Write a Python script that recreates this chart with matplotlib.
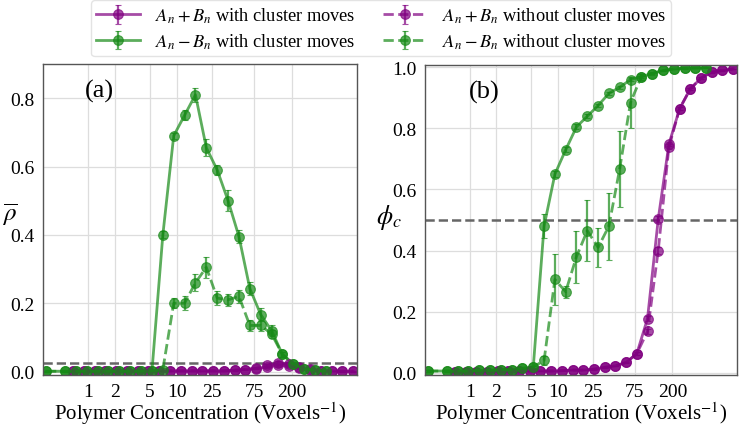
import matplotlib
matplotlib.use("Agg")
import matplotlib.pyplot as plt

plt.rcParams['font.family'] = ['Liberation Serif', 'DejaVu Serif']
plt.rcParams['mathtext.fontset'] = 'stix'

# concentrations (Voxels^-1)
x_green = [0.336, 0.550, 0.730, 0.968, 1.284, 1.702, 2.258, 2.995, 3.972, 5.267,
           6.985, 9.263, 12.28, 16.29, 21.60, 28.65, 37.99, 50.39, 66.83, 88.62,
           117.5, 155.9, 206.7, 274.2, 363.6, 482.2]
x_purple = [0.678, 0.897, 1.186, 1.569, 2.075, 2.745, 3.631, 4.803, 6.353, 8.404,
            11.12, 14.71, 19.45, 25.73, 34.04, 45.03, 59.57, 78.80, 104.2, 137.9,
            182.4, 241.3, 319.2, 422.2, 558.5, 738.8, 977.2]

# panel (a): rho bar
rho_plus_cl = [0.002, 0.002, 0.002, 0.002, 0.002, 0.002, 0.002, 0.002, 0.002, 0.002,
               0.002, 0.002, 0.002, 0.002, 0.002, 0.004, 0.006, 0.009, 0.013, 0.018,
               0.016, 0.011, 0.006, 0.003, 0.002, 0.001, 0.001]
rho_plus_cl_err = [0.001] * 17 + [0.002, 0.003, 0.004, 0.004, 0.003, 0.002, 0.001, 0.001, 0.001, 0.001]
rho_minus_cl = [0.001, 0.001, 0.001, 0.001, 0.001, 0.001, 0.001, 0.001, 0.001, 0.002,
                0.40, 0.69, 0.75, 0.81, 0.655, 0.59, 0.50, 0.395, 0.243, 0.167,
                0.12, 0.05, 0.023, 0.008, 0.004, 0.002]
rho_minus_cl_err = [0.001] * 10 + [0.01, 0.008, 0.015, 0.02, 0.025, 0.015, 0.03, 0.018,
                                   0.02, 0.02, 0.015, 0.008, 0.005, 0.003, 0.002, 0.001]
rho_plus_nocl = [0.002, 0.002, 0.002, 0.002, 0.002, 0.002, 0.002, 0.002, 0.002, 0.002,
                 0.002, 0.002, 0.002, 0.002, 0.002, 0.004, 0.006, 0.010, 0.018, 0.025,
                 0.022, 0.014, 0.007, 0.003, 0.002, 0.001, 0.001]
rho_plus_nocl_err = [0.001] * 17 + [0.002, 0.004, 0.006, 0.005, 0.004, 0.002, 0.001, 0.001, 0.001, 0.001]
rho_minus_nocl = [0.001, 0.001, 0.001, 0.001, 0.001, 0.001, 0.001, 0.001, 0.001, 0.002,
                  0.006, 0.20, 0.20, 0.26, 0.305, 0.215, 0.21, 0.22, 0.135, 0.135,
                  0.11, 0.05, 0.022, 0.008, 0.004, 0.002]
rho_minus_nocl_err = [0.001] * 10 + [0.004, 0.015, 0.02, 0.025, 0.03, 0.02, 0.018, 0.02,
                                     0.015, 0.015, 0.012, 0.008, 0.005, 0.003, 0.002, 0.001]

# panel (b): phi_c
phi_plus_cl = [0.003, 0.003, 0.003, 0.003, 0.004, 0.004, 0.004, 0.005, 0.005, 0.005,
               0.006, 0.008, 0.008, 0.011, 0.017, 0.022, 0.033, 0.062, 0.177, 0.503,
               0.749, 0.865, 0.93, 0.965, 0.985, 0.99, 0.995]
phi_plus_cl_err = [0.001] * 17 + [0.004, 0.008, 0.01, 0.008, 0.006, 0.004, 0.003, 0.002, 0.002, 0.001]
phi_minus_cl = [0.005, 0.005, 0.005, 0.005, 0.007, 0.007, 0.01, 0.01, 0.014, 0.018,
                0.48, 0.65, 0.73, 0.805, 0.84, 0.875, 0.915, 0.935, 0.96, 0.97,
                0.98, 0.99, 0.995, 0.997, 0.998, 0.999]
phi_minus_cl_err = [0.002] * 10 + [0.04, 0.01, 0.008, 0.008, 0.006, 0.006, 0.005, 0.005,
                                   0.004, 0.003, 0.002, 0.002, 0.001, 0.001, 0.001, 0.001]
phi_plus_nocl = [0.003, 0.003, 0.003, 0.003, 0.004, 0.004, 0.004, 0.005, 0.005, 0.005,
                 0.006, 0.008, 0.008, 0.011, 0.017, 0.022, 0.033, 0.062, 0.135, 0.40,
                 0.74, 0.865, 0.93, 0.965, 0.985, 0.99, 0.995]
phi_plus_nocl_err = [0.001] * 17 + [0.004, 0.008, 0.01, 0.008, 0.006, 0.004, 0.003, 0.002, 0.002, 0.001]
phi_minus_nocl = [0.005, 0.005, 0.005, 0.005, 0.007, 0.007, 0.01, 0.01, 0.014, 0.018,
                  0.04, 0.305, 0.265, 0.38, 0.465, 0.41, 0.48, 0.668, 0.885, 0.97,
                  0.98, 0.99, 0.995, 0.997, 0.998, 0.999]
phi_minus_nocl_err = [0.002] * 10 + [0.015, 0.085, 0.02, 0.085, 0.1, 0.065, 0.11, 0.125,
                                     0.085, 0.01, 0.004, 0.002, 0.001, 0.001, 0.001, 0.001]

x_ticks = [1, 2, 5, 10, 25, 75, 200]
x_tick_labels = ['1', '2', '5', '10', '25', '75', '200']
labels = [r'$A_n+B_n$ with cluster moves', r'$A_n-B_n$ with cluster moves',
          r'$A_n+B_n$ without cluster moves', r'$A_n-B_n$ without cluster moves']

PURPLE = '#800080'
GREEN = '#178a17'

fig = plt.figure(figsize=(7.4, 4.27), dpi=100)
ax1 = fig.add_axes([43 / 740, 51 / 427, 314 / 740, 311 / 427])
ax2 = fig.add_axes([425 / 740, 51 / 427, 312 / 740, 310 / 427])

common = dict(marker='o', markersize=7, capsize=2.5, elinewidth=1.6, capthick=1.2,
              lw=2, alpha=0.7, markeredgewidth=0.8)

def draw(ax, series):
    handles = []
    for (x, y, e, c, ls) in series:
        h = ax.errorbar(x, y, yerr=e, color=c, ls=ls, **common)
        handles.append(h)
    return handles

series_a = [
    (x_purple, rho_plus_cl, rho_plus_cl_err, PURPLE, '-'),
    (x_green, rho_minus_cl, rho_minus_cl_err, GREEN, '-'),
    (x_purple, rho_plus_nocl, rho_plus_nocl_err, PURPLE, '--'),
    (x_green, rho_minus_nocl, rho_minus_nocl_err, GREEN, '--'),
]
series_b = [
    (x_purple, phi_plus_cl, phi_plus_cl_err, PURPLE, '-'),
    (x_green, phi_minus_cl, phi_minus_cl_err, GREEN, '-'),
    (x_purple, phi_plus_nocl, phi_plus_nocl_err, PURPLE, '--'),
    (x_green, phi_minus_nocl, phi_minus_nocl_err, GREEN, '--'),
]
handles = draw(ax1, series_a)
draw(ax2, series_b)

ax1.axhline(0.025, color='#666666', ls='--', lw=1.8, zorder=1)
ax2.axhline(0.5, color='#666666', ls='--', lw=1.8, zorder=1)

for ax in (ax1, ax2):
    ax.set_xscale('log')
    ax.set_xlim(0.311, 1080)
    ax.set_xticks(x_ticks)
    ax.set_xticklabels(x_tick_labels)
    ax.minorticks_off()
    ax.grid(True, color='#dddddd', lw=0.9)
    ax.set_axisbelow(True)
    ax.tick_params(length=0, labelsize=14, pad=6)
    for s in ax.spines.values():
        s.set_color('#555555')
        s.set_linewidth(1.0)
    ax.set_xlabel(r'Polymer Concentration (Voxels$^{-1}$)', fontsize=15)
    ax.xaxis.label.set_va('center')
    ax.xaxis.set_label_coords(0.5, -0.122)

ax1.set_ylim(-0.01, 0.9)
ax1.set_yticks([0.0, 0.2, 0.4, 0.6, 0.8])
ax1.set_ylabel(r'$\overline{\rho}$', fontsize=18, rotation=0)
ax1.yaxis.label.set_va('center')
ax1.yaxis.set_label_coords(-0.105, 0.52)
ax1.text(0.18, 0.915, '(a)', transform=ax1.transAxes, fontsize=19, ha='center', va='center')

ax2.set_ylim(-0.008, 1.008)
ax2.set_yticks([0.0, 0.2, 0.4, 0.6, 0.8, 1.0])
ax2.set_ylabel(r'$\phi_c$', fontsize=18.5, rotation=0)
ax2.yaxis.label.set_va('center')
ax2.yaxis.set_label_coords(-0.115, 0.51)
ax2.text(0.19, 0.915, '(b)', transform=ax2.transAxes, fontsize=19, ha='center', va='center')

leg = fig.legend(handles, labels, loc='upper center', bbox_to_anchor=(0.515, 0.997), ncol=2,
                 fontsize=13.2, frameon=True, fancybox=True, edgecolor='#dddddd',
                 handlelength=2.4, columnspacing=1.5, borderpad=0.3, labelspacing=0.35,
                 borderaxespad=0.0)

fig.savefig('out.png', dpi=100)
